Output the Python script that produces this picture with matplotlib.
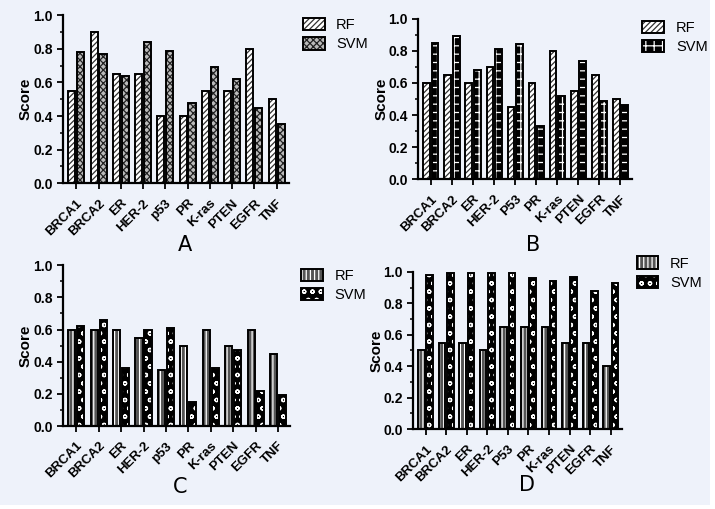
import matplotlib
matplotlib.use("Agg")
import matplotlib.pyplot as plt
from matplotlib.patches import Patch, Rectangle
import numpy as np

plt.rcParams['font.family'] = ['Liberation Sans', 'DejaVu Sans']
plt.rcParams['hatch.linewidth'] = 0.9

genes_a = ['BRCA1', 'BRCA2', 'ER', 'HER-2', 'p53', 'PR', 'K-ras', 'PTEN', 'EGFR', 'TNF']
genes_b = ['BRCA1', 'BRCA2', 'ER', 'HER-2', 'P53', 'PR', 'K-ras', 'PTEN', 'EGFR', 'TNF']
genes_c = ['BRCA1', 'BRCA2', 'ER', 'HER-2', 'p53', 'PR', 'K-ras', 'PTEN', 'EGFR', 'TNF']
genes_d = ['BRCA1', 'BRCA2', 'ER', 'HER-2', 'P53', 'PR', 'K-ras', 'PTEN', 'EGFR', 'TNF']

rf_a = [0.55, 0.90, 0.65, 0.65, 0.40, 0.40, 0.55, 0.55, 0.80, 0.50]
svm_a = [0.78, 0.77, 0.64, 0.84, 0.79, 0.48, 0.69, 0.62, 0.45, 0.35]
rf_b = [0.60, 0.65, 0.60, 0.70, 0.45, 0.60, 0.80, 0.55, 0.65, 0.50]
svm_b = [0.85, 0.89, 0.68, 0.81, 0.84, 0.33, 0.52, 0.74, 0.49, 0.46]
rf_c = [0.60, 0.60, 0.60, 0.55, 0.35, 0.50, 0.60, 0.50, 0.60, 0.45]
svm_c = [0.62, 0.66, 0.36, 0.60, 0.61, 0.15, 0.36, 0.47, 0.22, 0.19]
rf_d = [0.50, 0.55, 0.55, 0.50, 0.65, 0.65, 0.65, 0.55, 0.55, 0.40]
svm_d = [0.98, 0.99, 0.99, 0.99, 0.99, 0.96, 0.94, 0.97, 0.88, 0.93]

bg = '#eef2fa'

fig = plt.figure(figsize=(7.15, 5.09), dpi=100, facecolor='white')
fig.patches.append(Rectangle((0, 0.008), 0.993, 0.992, transform=fig.transFigure,
                             facecolor=bg, edgecolor='none', zorder=-10))

# (face, hatch colour, hatch)
styles = {
    'A': [('white', '#333333', '//////'), ('#bbbbbb', '#222222', 'xxxxx')],
    'B': [('white', '#333333', '//////'), ('black', 'white', '++')],
    'C': [('#555555', 'white', '||||'), ('black', 'white', 'oo')],
    'D': [('#555555', 'white', '||||'), ('black', 'white', 'oo')],
}

panels = [
    ('A', [0.088, 0.640, 0.316, 0.330], genes_a, rf_a, svm_a, (185, 245), (0.405, 0.99)),
    ('B', [0.585, 0.648, 0.299, 0.315], genes_b, rf_b, svm_b, (533, 245), (0.88, 0.985)),
    ('C', [0.088, 0.163, 0.318, 0.316], genes_c, rf_c, svm_c, (180, 487), (0.403, 0.497)),
    ('D', [0.578, 0.157, 0.292, 0.309], genes_d, rf_d, svm_d, (527, 485), (0.872, 0.522)),
]

w = 0.32
for name, pos, genes, rf, svm, lab_xy, leg_xy in panels:
    ax = fig.add_axes(pos)
    ax.set_facecolor('none')
    x = np.arange(len(genes))
    handles = []
    for vals, off, st in [(rf, -0.2, styles[name][0]), (svm, 0.2, styles[name][1])]:
        face, hc, hatch = st
        ax.bar(x + off, vals, w, color=face, edgecolor=hc, hatch=hatch, linewidth=0)
        ax.bar(x + off, vals, w, fill=False, edgecolor='black', linewidth=1.4)
        handles.append((Patch(facecolor=face, edgecolor=hc, hatch=hatch, linewidth=0),
                        Patch(fill=False, edgecolor='black', linewidth=1.4)))
    ax.set_xlim(-0.6, 9.55)
    ax.set_ylim(0, 1.0)
    ax.set_yticks(np.arange(0, 1.01, 0.2))
    ax.set_yticks(np.arange(0.1, 1.0, 0.2), minor=True)
    ax.set_yticklabels([f'{v:.1f}' for v in np.arange(0, 1.01, 0.2)],
                       fontsize=10, fontweight='bold')
    ax.set_xticks(x)
    ax.set_xticklabels(genes, rotation=45, ha='right', rotation_mode='anchor',
                       fontsize=9.5, fontweight='bold')
    ax.tick_params(axis='both', direction='out', width=1.3, length=4)
    ax.tick_params(axis='x', pad=6)
    ax.tick_params(axis='y', which='minor', width=1.1, length=2.5)
    for s in ['top', 'right']:
        ax.spines[s].set_visible(False)
    for s in ['left', 'bottom']:
        ax.spines[s].set_linewidth(1.6)
    ax.set_ylabel('Score', fontsize=11, fontweight='bold', labelpad=0)
    fig.legend(handles, ['RF', 'SVM'], loc='upper left', bbox_to_anchor=leg_xy,
               frameon=False, fontsize=10.5, handlelength=1.5, handleheight=0.9,
               labelspacing=0.35, handletextpad=0.8)
    fig.text(lab_xy[0] / 715, 1 - lab_xy[1] / 509, name, fontsize=15,
             ha='center', va='center', family='DejaVu Sans')

fig.savefig('out.png', dpi=100, facecolor=fig.get_facecolor())
